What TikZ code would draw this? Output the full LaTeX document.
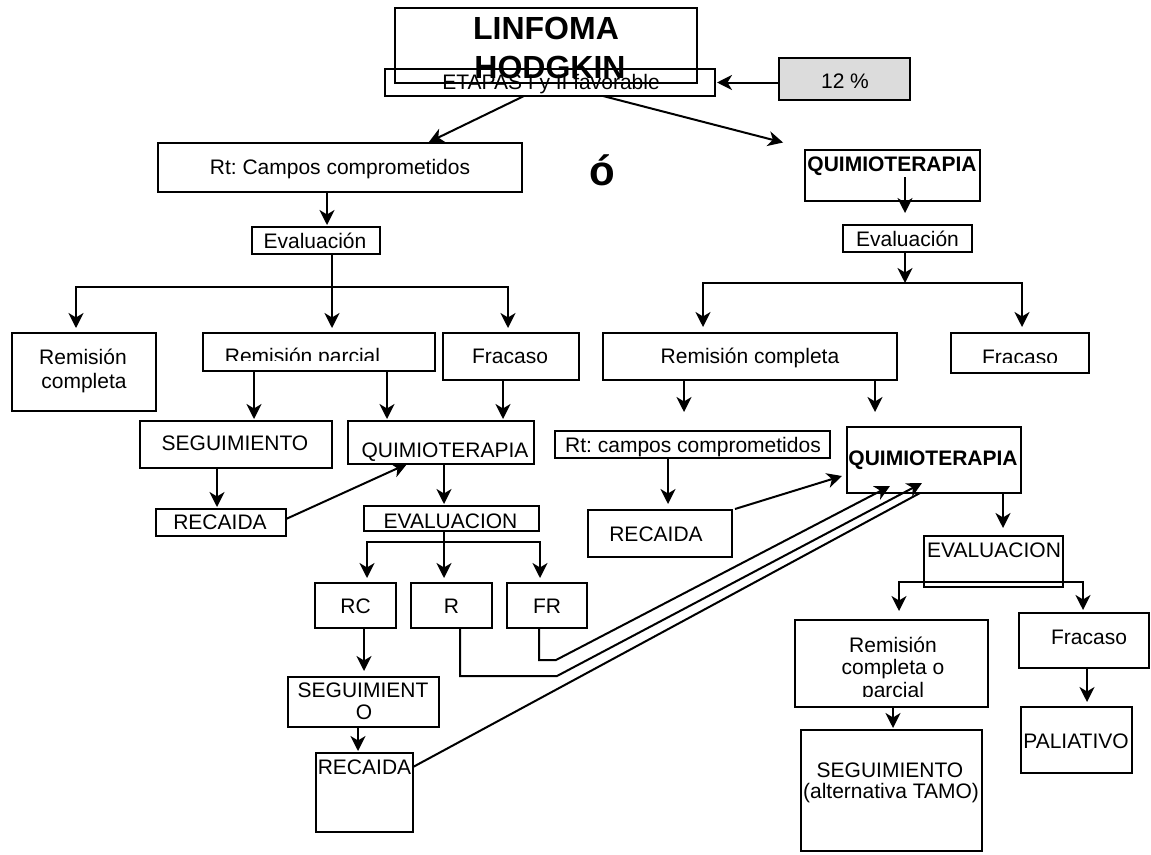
\documentclass[tikz,border=0pt]{standalone}
\usepackage{fontspec}
\setmainfont{Liberation Sans}
\usetikzlibrary{arrows.meta}
\frenchspacing
\begin{document}
\begin{tikzpicture}[x=1pt,y=-1pt,
  box/.style={draw, line width=2pt, inner sep=0pt, outer sep=0pt},
  thinbox/.style={draw, line width=1.2pt, inner sep=0pt, outer sep=0pt},
  pctbox/.style={box, fill=pctgray},
  lbl/.style={inner sep=0pt, outer sep=0pt, anchor=base, font=\fontsize{21}{24}\selectfont},
  blbl/.style={lbl, font=\fontsize{21}{24}\selectfont\bfseries},
  ttl/.style={lbl, font=\fontsize{32}{38}\selectfont\bfseries},
  ln/.style={line width=2pt, line cap=rect},
  arr/.style={line width=2pt, -{Stealth[length=15pt,width=15pt,inset=4.5pt]}, shorten >=2pt},
]
\definecolor{pctgray}{RGB}{220,220,220}
% box macro: name, left, top, right, bottom (pixel-like units, y downwards)
\newcommand\bx[6][box]{\node[#1, minimum width={(#5)-(#3)}, minimum height={(#6)-(#4)}, anchor=north west] (#2) at (#3,#4) {};}

\useasboundingbox (0,0) rectangle (1151,854);
\fill[white] (0,0) rectangle (1151,854);

% ---------- header ----------
\bx[thinbox]{ttlbox}{395}{8}{697}{83}
\node[ttl] (tA) at (546,39) {LINFOMA};
\node[ttl] (tB) at (550,78) {HODGKIN};
\bx{etapas}{385}{69}{715}{96}
\node[lbl] (tEt) at (551,89) {ETAPAS I y II favorable};
\bx[pctbox]{pct}{779}{58}{910}{100}
\node[lbl] (tPct) at (845,88) {12 \%};
\node[lbl, font=\fontsize{42}{46}\selectfont\bfseries] (tO) at (602,185) {ó};

% ---------- left branch: radiotherapy ----------
\bx{rtL}{158}{143}{522}{192}
\node[lbl] (tRtL) at (340,174) {Rt: Campos comprometidos};
\bx{evL}{252}{227}{380}{254}
\node[lbl] (tEvL) at (315,248) {Evaluación};

\bx{remcL}{12}{333}{156}{411}
\node[lbl] (tRc1) at (83,364) {Remisión};
\node[lbl] (tRc2) at (84,388) {completa};
\bx{parcL}{203}{333}{435}{371}
\begin{scope}
  \clip (203,333) rectangle (435,360);
  \node[lbl] (tParc) at (302.5,363) {Remisión parcial};
\end{scope}
\bx{fracL}{443}{333}{579}{380}
\node[lbl] (tFrL) at (510,363) {Fracaso};

\bx{segL}{140}{421}{332}{468}
\node[lbl] (tSegL) at (235,450) {SEGUIMIENTO};
\bx{quimL}{348}{421}{534}{464}
\node[lbl] (tQL) at (445,457) {QUIMIOTERAPIA};
\bx{recL}{156}{509}{286}{536}
\node[lbl] (tRecL) at (220,529) {RECAIDA};
\bx{evalL}{364}{506}{539}{531}
\node[lbl] (tEvalL) at (450.5,528) {EVALUACION};

\bx{RC}{315}{583}{396}{628}
\node[lbl] (tRC) at (355.5,613) {RC};
\bx{R}{411}{583}{492}{628}
\node[lbl] (tR) at (451.5,613) {R};
\bx{FR}{507}{583}{587}{628}
\node[lbl] (tFR) at (547,613) {FR};
\bx{segO}{288}{677}{439}{727}
\node[lbl] (tSegO1) at (363,697) {SEGUIMIENT};
\node[lbl] (tSegO2) at (364,719) {O};
\bx{recL2}{316}{753}{413}{832}
\node[lbl] (tRecL2) at (364.5,774) {RECAIDA};

% ---------- right branch: chemotherapy ----------
\bx{qtop}{805}{150}{980}{201}
\node[blbl] (tQtop) at (892,171) {QUIMIOTERAPIA};
\bx{evR}{843}{225}{972}{252}
\node[lbl] (tEvR) at (907.5,246) {Evaluación};
\bx{remcR}{603}{333}{897}{380}
\node[lbl] (tRemcR) at (750,363) {Remisión completa};
\bx{fracR}{951}{333}{1089}{373}
\begin{scope}
  \clip (951,333) rectangle (1089,362);
  \node[lbl] (tFrR) at (1020,364) {Fracaso};
\end{scope}

\bx{rtR}{555}{431}{830}{458}
\node[lbl] (tRtR) at (693,452) {Rt: campos comprometidos};
\bx{recR}{588}{510}{732}{557}
\node[lbl] (tRecR) at (656,541) {RECAIDA};
\bx{quimR}{847}{427}{1021}{493}
\node[blbl] (tQR) at (933,465) {QUIMIOTERAPIA};
\bx{evalR}{924}{536}{1063}{587}
\node[lbl] (tEvalR) at (994,557) {EVALUACION};

\bx{remR2}{795}{620}{988}{707}
\node[lbl] (tRr1) at (893,652) {Remisión};
\node[lbl] (tRr2) at (893,674) {completa o};
\begin{scope}
  \clip (795,620) rectangle (988,696);
  \node[lbl] (tRr3) at (893,697) {parcial};
\end{scope}
\bx{fracR2}{1019}{613}{1149}{668}
\node[lbl] (tFrR2) at (1089,644) {Fracaso};
\bx{pal}{1021}{707}{1132}{773}
\node[lbl] (tPal) at (1076,748) {PALIATIVO};
\bx{segT}{801}{730}{982}{851}
\node[lbl] (tSegT1) at (890,777) {SEGUIMIENTO};
\node[lbl] (tSegT2) at (891,798) {(alternativa TAMO)};

% ---------- junction points ----------
\coordinate (jLa) at (76,287);
\coordinate (jLb) at (508,287);
\coordinate (jMa) at (367,542);
\coordinate (jMb) at (540,542);
\coordinate (jRa) at (703,283);
\coordinate (jRb) at (1022,283);
\coordinate (jSa) at (899,582);
\coordinate (jSb) at (1083,582);

% ---------- connectors: header ----------
\draw[arr] (pct.west |- etapas.east) -- (etapas.east);
\draw[arr] ([xshift=-26pt]etapas.south) -- ([xshift=87pt]rtL.north);
\draw[arr] ([xshift=53pt]etapas.south) -- ([shift={(-20,-7)}]qtop.north west);

% ---------- connectors: left branch ----------
\draw[arr] ([xshift=-13pt]rtL.south) -- ([xshift=-13pt]rtL.south |- evL.north);
\draw[arr, shorten >=5pt] ([xshift=16pt]evL.south) -- ([xshift=16pt]evL.south |- parcL.north);
\draw[ln] (jLa) -- (jLb);
\draw[arr, shorten >=5pt] (jLa) -- (jLa |- remcL.north);
\draw[arr, shorten >=5pt] (jLb) -- (jLb |- fracL.north);

\draw[arr] ([xshift=-65pt]parcL.south) -- ([xshift=-65pt]parcL.south |- segL.north);
\draw[arr] ([xshift=68pt]parcL.south) -- ([xshift=68pt]parcL.south |- quimL.north);
\draw[arr] ([xshift=-8pt]fracL.south) -- ([xshift=-8pt]fracL.south |- quimL.north);
\draw[arr] ([xshift=-19pt]segL.south) -- ([xshift=-19pt]segL.south |- recL.north);
\draw[arr, shorten >=0pt] ([yshift=3.5pt]recL.east) -- ([xshift=-34pt]quimL.south);
\draw[arr] ([xshift=3pt]quimL.south) -- ([xshift=3pt]quimL.south |- evalL.north);

\draw[arr, shorten >=5pt] ([xshift=-7.5pt]evalL.south) -- ([xshift=-7.5pt]evalL.south |- R.north);
\draw[ln] (jMa) -- (jMb);
\draw[arr, shorten >=5pt] (jMa) -- (jMa |- RC.north);
\draw[arr, shorten >=5pt] (jMb) -- (jMb |- FR.north);

\draw[arr, shorten >=6pt] ([xshift=8.5pt]RC.south) -- ([xshift=8.5pt]RC.south |- segO.north);
\draw[arr] ([xshift=-5.5pt]segO.south) -- ([xshift=-5.5pt]segO.south |- recL2.north);

% relapse routes to the second-line chemotherapy
\draw[arr, shorten >=0pt] ([xshift=8.5pt]R.south) -- ++(0,48) -- ++(97,0) -- ([shift={(-12,-10)}]quimR.south);
\draw[arr, shorten >=0pt] ([xshift=-8pt]FR.south) -- ++(0,32) -- ++(17,0) -- ([shift={(-44,-7)}]quimR.south);
\draw[line width=2pt] ([yshift=25.5pt]recL2.east) -- ([xshift=-14pt]quimR.south);

% ---------- connectors: right branch ----------
\draw[arr, shorten >=0pt] ([shift={(12.5,1.5)}]qtop.center) -- ([shift={(12.5,12)}]qtop.south);
\draw[arr, shorten >=0pt] ([xshift=-2.5pt]evR.south) -- ([xshift=-2.5pt]evR.south |- jRa);
\draw[ln] (jRa) -- (jRb);
\draw[arr, shorten >=6pt] (jRa) -- (jRa |- remcR.north);
\draw[arr, shorten >=6pt] (jRb) -- (jRb |- fracR.north);

\draw[arr, shorten >=19pt] ([xshift=-66pt]remcR.south) -- ([xshift=-66pt]remcR.south |- rtR.north);
\draw[arr, shorten >=15pt] ([xshift=125pt]remcR.south) -- ([xshift=125pt]remcR.south |- quimR.north);
\draw[arr, shorten >=6pt] ([xshift=-24.5pt]rtR.south) -- ([xshift=-24.5pt]rtR.south |- recR.north);
\draw[arr, shorten >=0pt] ([xshift=3pt,yshift=1pt]recR.north east) -- ([shift={(-5,16)}]quimR.west);
\draw[arr, shorten >=8pt] ([xshift=69pt]quimR.south) -- ([xshift=69pt]quimR.south |- evalR.north);

\draw[ln] (jSa) -- (jSb);
\draw[arr, shorten >=9pt] (jSa) -- (jSa |- remR2.north);
\draw[arr, shorten >=3pt] (jSb) -- (jSb |- fracR2.north);
\draw[arr] ([xshift=1.5pt]remR2.south) -- ([xshift=1.5pt]remR2.south |- segT.north);
\draw[arr, shorten >=5pt] ([xshift=3pt]fracR2.south) -- ([xshift=3pt]fracR2.south |- pal.north);
\end{tikzpicture}
\end{document}
